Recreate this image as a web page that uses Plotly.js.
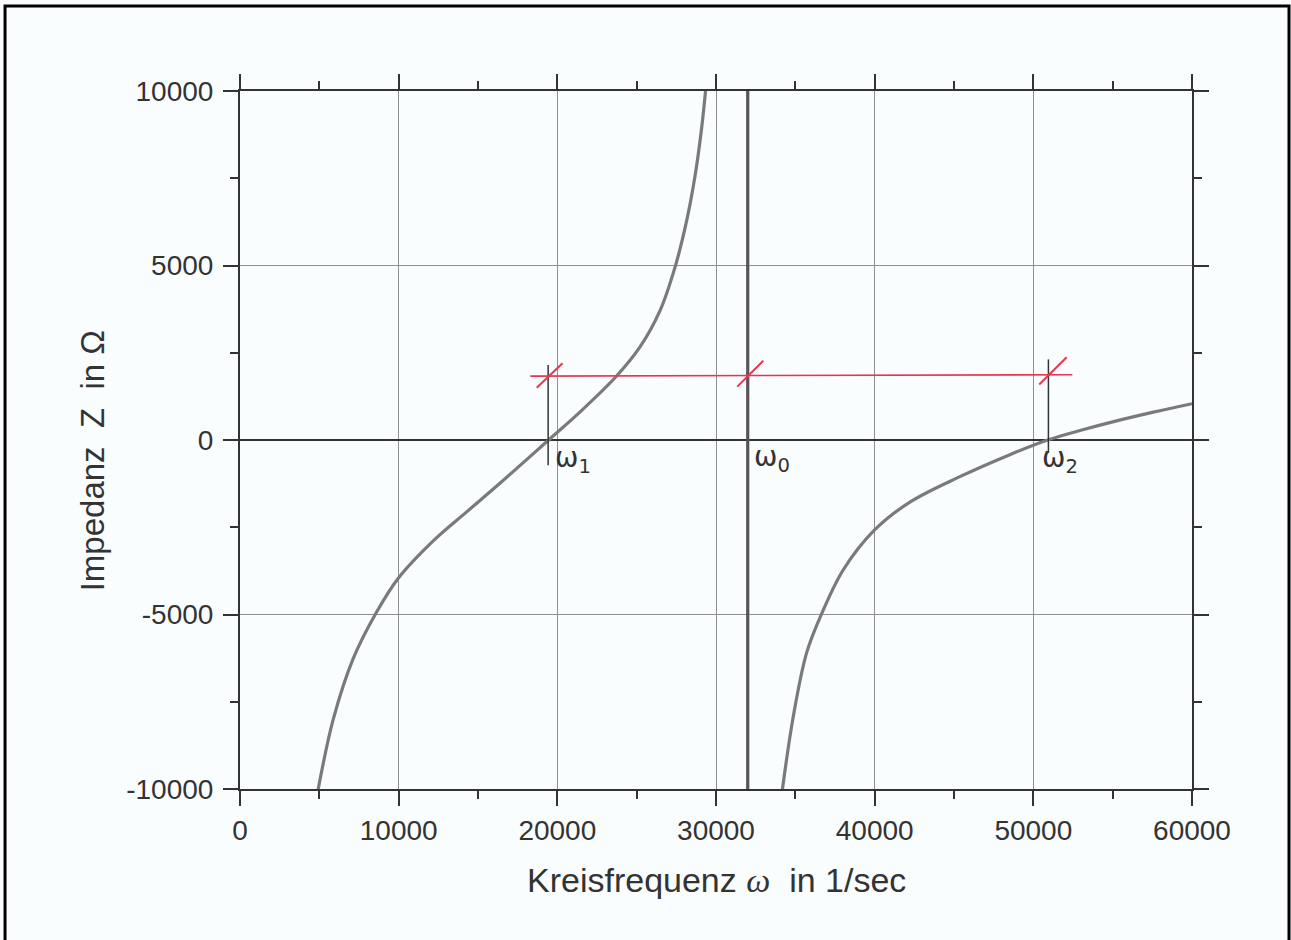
<!DOCTYPE html>
<html>
<head>
<meta charset="utf-8">
<script src="https://cdn.plot.ly/plotly-3.0.1.min.js"></script>
<style>
  html, body { margin: 0; padding: 0; background: #fafdfe; }
  #chart { width: 1291px; height: 940px; }
</style>
</head>
<body>
<div id="chart"></div>
<script>
// ---- data ----
const branch1W = [4930, 5880, 7140, 8610, 9975, 12180, 14285, 16380, 19450, 21420, 23735, 25200, 26465, 27410, 28145, 28670, 29090, 29340];
const branch1Z = [-10000, -8000, -6260, -4930, -3960, -2890, -2060, -1240, 0, 800, 1834, 2660, 3700, 4940, 6270, 7540, 8920, 10000];

const branch2W = [34190, 34860, 35710, 36650, 38015, 40010, 42220, 45370, 48520, 50900, 53000, 55000, 57500, 60000];
const branch2Z = [-10000, -7950, -6100, -4990, -3725, -2570, -1780, -1050, -420, 0, 280, 520, 790, 1040];

const omega0W = [32000, 32000];
const omega0Z = [-10000, 10000];

const redLineW = [18300, 52460];
const redLineZ = [1830, 1870];

const slash1W = [18700, 20330];
const slash1Z = [1500, 2200];
const slash0W = [31340, 32980];
const slash0Z = [1530, 2270];
const slash2W = [50370, 52100];
const slash2Z = [1590, 2370];

const mark1W = [19420, 19420];
const mark1Z = [2150, -720];
const mark2W = [50950, 50950];
const mark2Z = [2310, -370];

const xTickVals = [0, 10000, 20000, 30000, 40000, 50000, 60000];
const yTickVals = [-10000, -5000, 0, 5000, 10000];

const xTitle = 'Kreisfrequenz <span style="font-family:\'Liberation Serif\';font-style:italic">ω</span>  in 1/sec';
const yTitle = 'Impedanz  Z  in Ω';

const labelTexts = ['ω<sub>1</sub>', 'ω<sub>0</sub>', 'ω<sub>2</sub>'];
const labelW = [19700, 32300, 50400];
const labelZ = [-560, -520, -560];

// ---- traces ----
const grayCurve = {color: '#7a7a7a', width: 3.2, shape: 'spline', smoothing: 1.0};
const traces = [
  {x: branch1W, y: branch1Z, mode: 'lines', line: grayCurve, hoverinfo: 'skip'},
  {x: branch2W, y: branch2Z, mode: 'lines', line: grayCurve, hoverinfo: 'skip'},
  {x: omega0W, y: omega0Z, mode: 'lines', line: {color: '#555555', width: 3.2}, hoverinfo: 'skip'},
  {x: mark1W, y: mark1Z, mode: 'lines', line: {color: '#333333', width: 1.5}, hoverinfo: 'skip'},
  {x: mark2W, y: mark2Z, mode: 'lines', line: {color: '#333333', width: 1.5}, hoverinfo: 'skip'},
  {x: redLineW, y: redLineZ, mode: 'lines', line: {color: '#e8354f', width: 1.6}, hoverinfo: 'skip'},
  {x: slash1W, y: slash1Z, mode: 'lines', line: {color: '#e8354f', width: 2}, hoverinfo: 'skip'},
  {x: slash0W, y: slash0Z, mode: 'lines', line: {color: '#e8354f', width: 2}, hoverinfo: 'skip'},
  {x: slash2W, y: slash2Z, mode: 'lines', line: {color: '#e8354f', width: 2}, hoverinfo: 'skip'}
];

const axisCommon = {
  showline: true, linecolor: '#333333', linewidth: 2,
  mirror: 'ticks',
  ticks: 'outside', ticklen: 15, tickwidth: 2, tickcolor: '#333333',
  showgrid: true, gridcolor: '#8f8f8f', gridwidth: 1,
  tickfont: {family: 'Liberation Sans, Arial, sans-serif', size: 28, color: '#333333'},
  fixedrange: true
};

const layout = {
  width: 1291, height: 940,
  margin: {l: 240, r: 99, t: 91, b: 151},
  paper_bgcolor: '#fafdfe',
  plot_bgcolor: '#fafdfe',
  showlegend: false,
  xaxis: Object.assign({}, axisCommon, {
    range: [0, 60000], tickmode: 'array', tickvals: xTickVals, ticktext: xTickVals.map(String),
    zeroline: false, ticklabelstandoff: 0,
    minor: {dtick: 5000, tick0: 0, ticks: 'outside', ticklen: 8, tickwidth: 2, tickcolor: '#333333', showgrid: false}
  }),
  yaxis: Object.assign({}, axisCommon, {
    range: [-10000, 10000], tickmode: 'array', tickvals: yTickVals, ticktext: yTickVals.map(String),
    zeroline: true, zerolinecolor: '#333333', zerolinewidth: 2, ticklabelstandoff: 4,
    minor: {dtick: 2500, tick0: 0, ticks: 'outside', ticklen: 8, tickwidth: 2, tickcolor: '#333333', showgrid: false}
  }),
  annotations: [
    {xref: 'paper', yref: 'paper', x: 0.5, y: -0.13, xanchor: 'center', yanchor: 'middle', showarrow: false,
     text: xTitle, font: {family: 'Liberation Sans, Arial, sans-serif', size: 34, color: '#333333'}},
    {xref: 'paper', yref: 'paper', x: -0.154, y: 0.47, xanchor: 'center', yanchor: 'middle', showarrow: false,
     textangle: -90, text: yTitle, font: {family: 'Liberation Sans, Arial, sans-serif', size: 33, color: '#333333'}}
  ].concat(labelTexts.map((t, i) => ({
     xref: 'x', yref: 'y', x: labelW[i], y: labelZ[i], xanchor: 'left', yanchor: 'middle', showarrow: false,
     text: t, font: {family: 'DejaVu Sans, sans-serif', size: 28, color: '#333333'}
  }))),
  shapes: [
    {type: 'path', xref: 'paper', yref: 'paper',
     path: 'M -0.2468,-0.25 L -0.2468,1.1218 L 1.1019,1.1218 L 1.1019,-0.25',
     line: {color: '#000000', width: 3}}
  ]
};

Plotly.newPlot('chart', traces, layout, {staticPlot: true, displayModeBar: false});
</script>
</body>
</html>
